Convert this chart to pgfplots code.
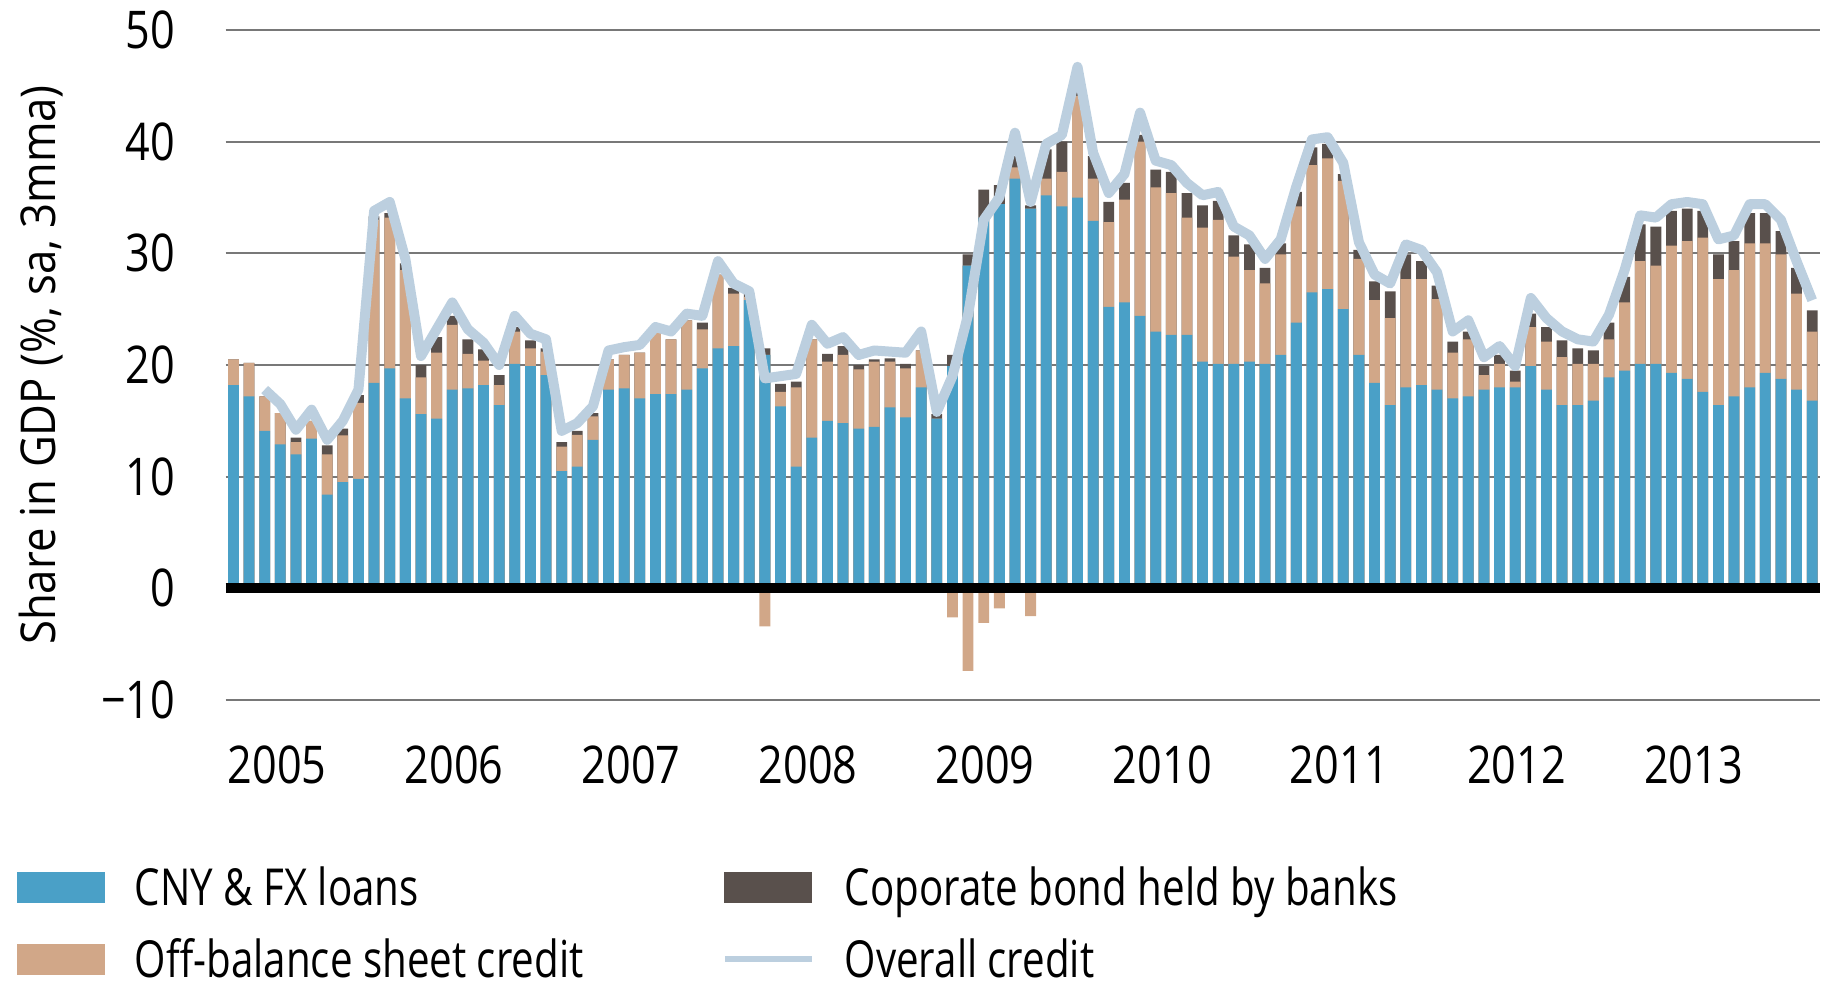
\documentclass[border=0pt]{standalone}
\usepackage{fontspec}
\setmainfont{Open Sans}[FakeStretch=0.83]
\newfontfamily\labfont{Open Sans}[FakeStretch=0.91]
\newfontfamily\legfont{Open Sans}[FakeStretch=0.79]
\usepackage{pgfplots}
\usepackage{pgfplotstable}
\pgfplotsset{compat=1.18}

\definecolor{cblue}{RGB}{74,160,199}
\definecolor{ctan}{RGB}{209,167,136}
\definecolor{cdark}{RGB}{89,80,76}
\definecolor{cline}{RGB}{188,207,223}
\definecolor{cgrid}{RGB}{120,120,120}

% monthly, share in GDP (%, sa, 3mma); tan = off-balance sheet credit
\pgfplotstableread{
x blue tan bond line
0 18.2 2.3 0 nan
1 17.2 3.0 0 nan
2 14.1 3.1 0 17.8
3 12.9 2.8 0 16.5
4 12.0 1.1 0.4 14.2
5 13.4 1.6 0 16.0
6 8.4 3.6 0.8 13.3
7 9.5 4.2 0.6 15.0
8 9.8 6.8 0.7 17.8
9 18.4 14.6 0.3 33.8
10 19.7 13.5 0.4 34.6
11 17.0 11.5 0.6 29.5
12 15.6 3.3 1.1 20.8
13 15.2 5.9 1.4 23.2
14 17.8 5.8 0.8 25.6
15 17.9 3.1 1.3 23.2
16 18.2 2.2 1.0 22.0
17 16.4 1.8 0.9 20.0
18 20.1 2.9 0.4 24.4
19 19.9 1.6 0.7 22.8
20 19.1 2.1 0.3 22.3
21 10.5 2.2 0.4 14.1
22 10.9 2.85 0.35 14.8
23 13.3 2.1 0.3 16.3
24 17.8 2.7 0 21.3
25 17.9 3.0 0 21.6
26 17.0 4.1 0 21.8
27 17.4 5.5 0 23.4
28 17.4 4.9 0 23.0
29 17.8 6.2 0 24.6
30 19.7 3.5 0.6 24.4
31 21.5 6.6 0 29.3
32 21.7 4.7 0.5 27.3
33 25.8 0.3 0.3 26.6
34 20.9 -3.4 0.6 18.8
35 16.3 1.3 0.7 19.0
36 10.9 7.1 0.5 19.2
37 13.5 8.8 0 23.6
38 15.0 5.3 0.7 21.9
39 14.8 6.1 0.8 22.5
40 14.3 5.3 0.4 20.9
41 14.45 5.85 0.2 21.3
42 16.2 4.1 0.3 21.2
43 15.3 4.4 0.4 21.1
44 18.0 3.3 0 23.0
45 15.2 -0.4 0.4 15.8
46 19.9 -2.6 1.0 19.0
47 28.9 -7.4 1.0 24.5
48 33.2 -3.1 2.5 33.0
49 34.4 -1.8 1.7 35.0
50 36.7 1.0 1.0 40.8
51 34.0 -2.5 0.3 34.6
52 35.2 1.5 2.6 39.8
53 34.2 3.1 2.7 40.6
54 35.0 9.1 0.4 46.7
55 32.9 3.8 2.0 39.0
56 25.2 7.6 1.8 35.4
57 25.6 9.2 1.5 37.1
58 24.4 15.6 0.6 42.6
59 23.0 12.9 1.6 38.3
60 22.7 12.7 1.9 37.9
61 22.7 10.5 2.2 36.3
62 20.3 12.0 2.0 35.2
63 20.1 12.9 1.7 35.5
64 20.1 9.6 1.9 32.4
65 20.3 8.2 2.3 31.6
66 20.1 7.2 1.4 29.5
67 20.9 9.0 1.0 31.25
68 23.8 10.4 1.3 36.0
69 26.5 11.4 1.6 40.2
70 26.8 11.7 1.3 40.4
71 25.0 11.5 0.6 38.1
72 20.9 8.6 0.8 31.0
73 18.4 7.4 1.7 28.1
74 16.4 7.8 2.4 27.3
75 18.0 9.7 2.2 30.8
76 18.2 9.5 1.6 30.3
77 17.8 8.1 1.2 28.3
78 17.0 4.1 1.0 23.0
79 17.2 5.1 0.7 24.0
80 17.8 1.3 0.8 20.7
81 18.0 2.1 0.8 21.7
82 18.0 0.5 1.0 19.9
83 19.9 3.5 1.2 26.0
84 17.8 4.3 1.3 24.2
85 16.4 4.3 1.5 23.0
86 16.4 3.7 1.4 22.3
87 16.8 3.3 1.2 22.1
88 18.9 3.4 1.5 24.5
89 19.5 6.1 2.3 28.5
90 20.1 9.2 3.3 33.4
91 20.1 8.8 3.5 33.2
92 19.3 11.4 3.1 34.4
93 18.75 12.35 2.9 34.6
94 17.6 13.8 2.4 34.4
95 16.4 11.3 2.2 31.25
96 17.2 11.3 2.6 31.6
97 18.0 12.9 2.7 34.4
98 19.3 11.6 2.7 34.4
99 18.75 11.15 2.1 33.0
100 17.8 8.6 2.3 29.3
101 16.8 6.2 1.9 25.8
}\credit

\begin{document}
\begin{tikzpicture}
\useasboundingbox (-112.8pt,-141.5pt) rectangle (802.2pt,350pt);
\begin{axis}[
    width=797.2pt, height=335pt, scale only axis,
    xmin=-0.5, xmax=101.5, ymin=-10, ymax=50,
    enlarge x limits=false, enlarge y limits=false,
    ybar, bar width=0.69, bar shift=0pt,
    ytick={-10,0,10,20,30,40,50},
    yticklabels={−10,0,10,20,30,40,50},
    xtick={2.8,14.125,25.45,36.775,48.1,59.425,70.75,82.075,93.4},
    xticklabels={2005,2006,2007,2008,2009,2010,2011,2012,2013},
    ymajorgrids,
    grid style={line width=1pt, cgrid},
    axis line style={draw=none},
    tick style={draw=none},
    tick label style={font=\fontsize{26}{30}\selectfont, inner sep=0pt},
    yticklabel style={anchor=east, xshift=-25pt},
    xticklabel style={anchor=north, yshift=-18.5pt},
    ylabel={Share in GDP (\%, sa, 3mma)},
    ylabel style={at={(axis description cs:-0.1157,0.5)}, anchor=center,
        font=\labfont\fontsize{24}{28}\selectfont},
    legend columns=2,
    legend cell align=left,
    legend style={
        at={(axis description cs:0,0)}, anchor=north west,
        xshift=-104.3pt, yshift=-84.4pt,
        draw=none, fill=none, inner sep=0pt, outer sep=0pt,
        row sep=17.8pt,
        font=\legfont\fontsize{25.5}{29}\selectfont,
        nodes={inner sep=0pt, text height=18.2pt, text depth=0pt, anchor=west},
        /tikz/every odd column/.append style={column sep=15pt},
        /tikz/every even column/.append style={column sep=13.5pt},
    },
]
\addplot[fill=cdark, draw=none, bar shift=0pt, forget plot]
    table[x=x, y expr={\thisrow{blue}+max(\thisrow{tan},0)+\thisrow{bond}}] {\credit};
\addplot[fill=ctan, draw=none, bar shift=0pt, forget plot]
    table[x=x, y expr={\thisrow{blue}+max(\thisrow{tan},0)}] {\credit};
\addplot[fill=cblue, draw=none, bar shift=0pt, forget plot]
    table[x=x, y=blue] {\credit};
\addplot[fill=ctan, draw=none, bar shift=0pt, forget plot]
    table[x=x, y expr={min(\thisrow{tan},0)}] {\credit};
\addplot[sharp plot, cline, line width=5pt, line join=round, forget plot]
    table[x=x, y=line] {\credit};
\addplot[sharp plot, black, line width=5pt, forget plot]
    coordinates {(-0.5,0) (101.5,0)};

\addlegendimage{legend image code/.code={\fill[cblue] (0pt,-7.5pt) rectangle (43.5pt,7.5pt);}}
\addlegendentry{\makebox[280pt][l]{CNY \& FX loans}}
\addlegendimage{legend image code/.code={\fill[cdark] (0pt,-7.5pt) rectangle (43.5pt,7.5pt);}}
\addlegendentry{Coporate bond held by banks}
\addlegendimage{legend image code/.code={\fill[ctan] (0pt,-7.5pt) rectangle (43.5pt,7.5pt);}}
\addlegendentry{\makebox[280pt][l]{Off-balance sheet credit}}
\addlegendimage{legend image code/.code={\draw[cline, line width=3pt] (0pt,0pt) -- (43.5pt,0pt);}}
\addlegendentry{Overall credit}
\end{axis}
\end{tikzpicture}
\end{document}
